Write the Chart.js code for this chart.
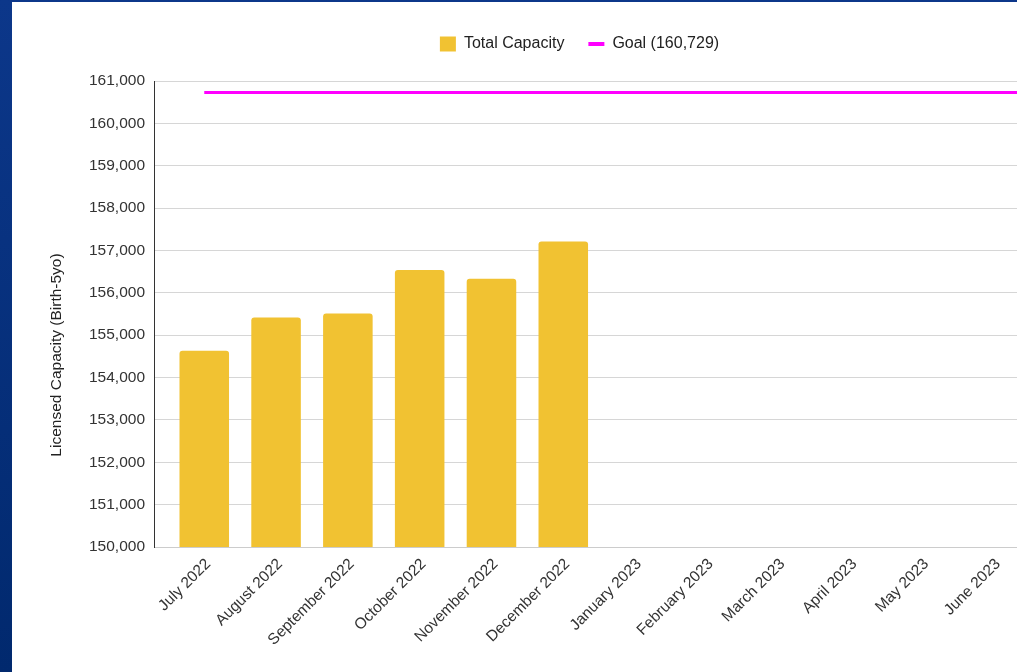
<!DOCTYPE html>
<html><head><meta charset="utf-8">
<script src="https://cdn.jsdelivr.net/npm/chart.js@4"></script>
<style>
html,body{margin:0;padding:0;width:1017px;height:672px;overflow:hidden;background:linear-gradient(#0c378a,#01296e);}
#panel{position:absolute;left:12px;top:2px;width:1005px;height:670px;background:#fff;}
#wrap{position:absolute;left:0;top:0;width:1017px;height:672px;}
</style></head><body>
<div id="panel"></div>
<div id="wrap"><canvas id="c" width="1017" height="672"></canvas></div>
<script>
const months = ['July 2022','August 2022','September 2022','October 2022','November 2022','December 2022',
  'January 2023','February 2023','March 2023','April 2023','May 2023','June 2023'];
const capacity = [154630, 155420, 155510, 156540, 156330, 157210, null, null, null, null, null, null];
const goalValue = 160729;
const seriesNames = ['Total Capacity', 'Goal (160,729)'];
const yAxisTitle = 'Licensed Capacity (Birth-5yo)';
const yMin = 150000, yMax = 161000, yStep = 1000;

const FONT = 'Arial, "Liberation Sans", sans-serif';
const X_MIN = -0.7, X_MAX = 11.319;
const LAYOUT_TOP = 12, CHART_TOP = 81, LEGEND_SHIFT = -6;

const barData = capacity.map((v, i) => ({x: i, y: v}));
const goalData = months.map((m, i) => ({x: i, y: goalValue}));
goalData.push({x: X_MAX, y: goalValue});

const legendFitPlugin = {
  id: 'legendFit',
  beforeInit(chart) {
    const orig = chart.legend.fit;
    chart.legend.fit = function () { orig.call(this); this.height = CHART_TOP - LAYOUT_TOP; };
  },
  afterLayout(chart) {
    chart.legend.left += LEGEND_SHIFT;
    chart.legend.right += LEGEND_SHIFT;
  }
};
const yTitlePlugin = {
  id: 'yTitle',
  afterDraw(chart) {
    const ctx = chart.ctx;
    ctx.save();
    ctx.translate(57, 355);
    ctx.rotate(-Math.PI / 2);
    ctx.font = '15.5px ' + FONT;
    ctx.fillStyle = '#222';
    ctx.textAlign = 'center';
    ctx.textBaseline = 'middle';
    ctx.fillText(yAxisTitle, 0, 0);
    ctx.restore();
  }
};

new Chart(document.getElementById('c'), {
  type: 'bar',
  data: {
    datasets: [
      {label: seriesNames[0], data: barData, backgroundColor: '#f1c232', borderColor: '#f1c232', borderWidth: 0,
       borderRadius: 3, categoryPercentage: 1, barPercentage: 0.69, pointStyle: 'rect'},
      {type: 'line', label: seriesNames[1], data: goalData, borderColor: '#ff00ff', backgroundColor: '#ff00ff',
       borderWidth: 3, pointRadius: 0, fill: false, tension: 0, pointStyle: 'line'}
    ]
  },
  plugins: [legendFitPlugin, yTitlePlugin],
  options: {
    responsive: false,
    devicePixelRatio: 1,
    animation: false,
    layout: {padding: {top: LAYOUT_TOP, left: 0, right: 0, bottom: 0}},
    plugins: {
      tooltip: {enabled: false},
      legend: {
        position: 'top',
        fullSize: false,
        labels: {
          usePointStyle: true, pointStyleWidth: 16, boxHeight: 15, padding: 24,
          color: '#222', font: {size: 16, family: FONT},
          generateLabels(chart) {
            const items = Chart.defaults.plugins.legend.labels.generateLabels(chart);
            items.sort((a, b) => a.datasetIndex - b.datasetIndex);
            items[0].lineWidth = 0;
            items[0].strokeStyle = '#f1c232';
            items[1].lineWidth = 4;
            return items;
          }
        }
      }
    },
    scales: {
      x: {
        type: 'linear', min: X_MIN, max: X_MAX, offset: false,
        grid: {display: false, drawTicks: false, offset: false},
        border: {display: true, color: '#cccccc', width: 1},
        ticks: {
          stepSize: 1, includeBounds: false, autoSkip: false, maxRotation: 45, minRotation: 45,
          padding: 8, labelOffset: 4, color: '#333', font: {size: 15.5, family: FONT},
          callback: (v) => months[v] ?? ''
        },
        afterFit(s) { s.height = 125; s.paddingLeft = 0; s.paddingRight = 0; }
      },
      y: {
        min: yMin, max: yMax,
        grid: {color: '#d6d6d6', drawTicks: false},
        border: {color: '#333', width: 1},
        ticks: {stepSize: yStep, padding: 9, color: '#333', font: {size: 15.5, family: FONT}},
        afterFit(s) { s.width = 154; }
      }
    }
  }
});
</script>
</body></html>
